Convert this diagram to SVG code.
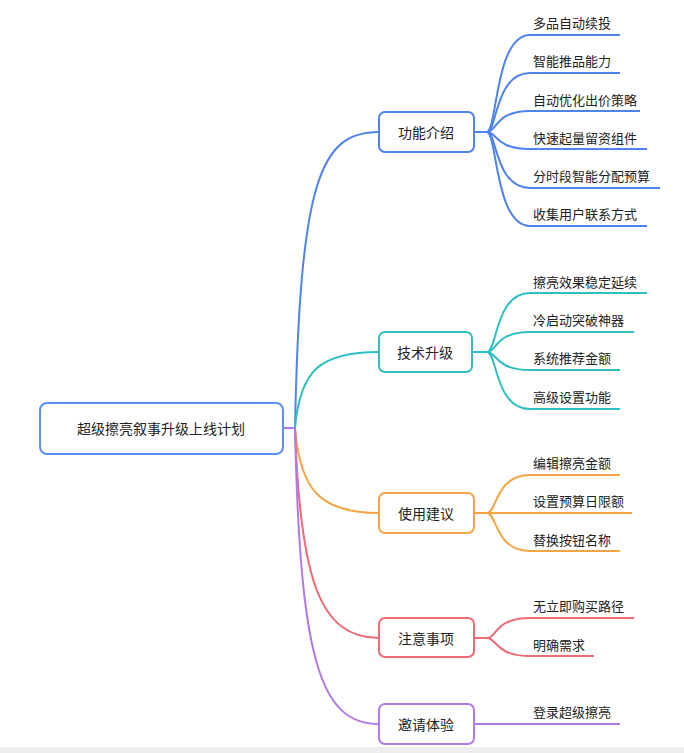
<svg xmlns="http://www.w3.org/2000/svg" width="684" height="753" viewBox="0 0 684 753">
<style>
text{font-family:"Noto Sans CJK SC","Noto Sans",sans-serif;font-size:13px;fill:#222;dominant-baseline:central}
.n{text-anchor:middle;font-size:14px}
rect.b{fill:#fff;stroke-width:2}
path{fill:none;stroke-width:2}
.bl{stroke:#4f83f0}.te{stroke:#2cc0c4}.or{stroke:#f5a642}.re{stroke:#f06a76}.pu{stroke:#b27ae8}
</style>
<rect width="684" height="753" fill="#fff"/>
<rect y="747" width="684" height="6" fill="#eeeeee"/>
<g id="connectors">
<path class="pu" d="M283,428 H295"/>
<path class="bl" d="M295,428 C300,180 320,132 379,132"/>
<path class="te" d="M295,428 C300,370 320,352 379,352"/>
<path class="or" d="M295,428 C300,490 320,513 379,513"/>
<path class="re" d="M295,428 C300,580 320,638 379,638"/>
<path class="pu" d="M295,428 C300,660 320,724 379,724"/>
<g class="bl">
<path d="M474,132 H487 C497,132 495,35 530,35 H620"/>
<path d="M487,132 C497,132 495,73 530,73 H620"/>
<path d="M487,132 C497,132 495,111 530,111 H640"/>
<path d="M487,132 C497,132 495,149 530,149 H647"/>
<path d="M487,132 C497,132 495,188 530,188 H660"/>
<path d="M487,132 C497,132 495,226 530,226 H647"/>
</g>
<g class="te">
<path d="M472,352 H487 C497,352 495,293 530,293 H647"/>
<path d="M487,352 C497,352 495,332 530,332 H634"/>
<path d="M487,352 C497,352 495,370 530,370 H620"/>
<path d="M487,352 C497,352 495,409 530,409 H620"/>
</g>
<g class="or">
<path d="M474,513 H487 C497,513 495,475 530,475 H620"/>
<path d="M487,513 H632"/>
<path d="M487,513 C497,513 495,551 530,551 H620"/>
</g>
<g class="re">
<path d="M474,638 H487 C497,638 495,618 530,618 H634"/>
<path d="M487,638 C497,638 495,656 530,656 H594"/>
</g>
<path class="pu" d="M474,724 H620"/>
</g>
<g id="root"><rect class="b" x="40" y="403" width="243" height="51" rx="7" stroke="#5b8ff9"/><text class="n" x="161" y="428" font-size="15">超级擦亮叙事升级上线计划</text></g>
<g id="n1"><rect class="b bl" x="379" y="112" width="95" height="40" rx="6"/><text class="n" x="426" y="132">功能介绍</text></g>
<g id="n2"><rect class="b te" x="379" y="332" width="93" height="40" rx="6"/><text class="n" x="425" y="352">技术升级</text></g>
<g id="n3"><rect class="b or" x="379" y="493" width="95" height="40" rx="6"/><text class="n" x="426" y="513">使用建议</text></g>
<g id="n4"><rect class="b re" x="379" y="618" width="95" height="39" rx="6"/><text class="n" x="426" y="638">注意事项</text></g>
<g id="n5"><rect class="b pu" x="379" y="704" width="95" height="40" rx="6"/><text class="n" x="426" y="724">邀请体验</text></g>
<g id="leaves">
<text x="533" y="22">多品自动续投</text>
<text x="533" y="60">智能推品能力</text>
<text x="533" y="99">自动优化出价策略</text>
<text x="533" y="137">快速起量留资组件</text>
<text x="533" y="175">分时段智能分配预算</text>
<text x="533" y="213">收集用户联系方式</text>
<text x="533" y="281">擦亮效果稳定延续</text>
<text x="533" y="319">冷启动突破神器</text>
<text x="533" y="357">系统推荐金额</text>
<text x="533" y="396">高级设置功能</text>
<text x="533" y="462">编辑擦亮金额</text>
<text x="533" y="500">设置预算日限额</text>
<text x="533" y="539">替换按钮名称</text>
<text x="533" y="605">无立即购买路径</text>
<text x="533" y="644">明确需求</text>
<text x="533" y="711">登录超级擦亮</text>
</g>
</svg>
